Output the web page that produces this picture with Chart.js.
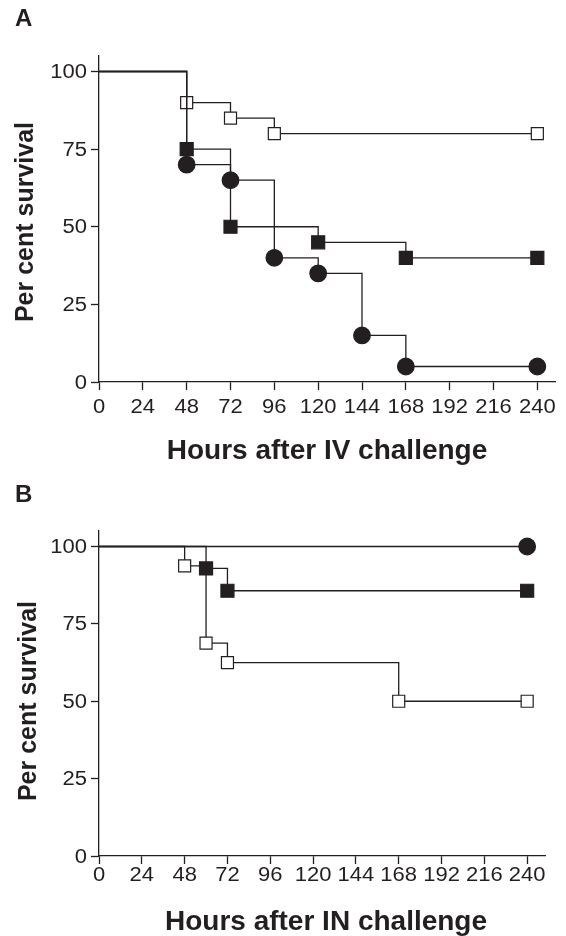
<!DOCTYPE html>
<html>
<head>
<meta charset="utf-8">
<script src="https://cdn.jsdelivr.net/npm/chart.js@4"></script>
<style>
  html, body { margin: 0; padding: 0; background: #fff; }
  body { width: 566px; height: 936px; position: relative; overflow: hidden; }
  .panel { position: absolute; left: 0; width: 566px; height: 468px; }
  #panelA { top: 0; }
  #panelB { top: 468px; }
</style>
</head>
<body>
<div class="panel" id="panelA"><canvas id="chartA" width="566" height="468"></canvas></div>
<div class="panel" id="panelB"><canvas id="chartB" width="566" height="468"></canvas></div>
<script>
// axis ticks
const hourTicks = [0, 24, 48, 72, 96, 120, 144, 168, 192, 216, 240];
const survivalTicks = [0, 25, 50, 75, 100];

// panel A - IV challenge
const ivCircleHours = [0, 48, 72, 96, 120, 144, 168, 240];
const ivCircleSurvival = [100, 70, 65, 40, 35, 15, 5, 5];
const ivFilledHours = [0, 48, 72, 120, 168, 240];
const ivFilledSurvival = [100, 75, 50, 45, 40, 40];
const ivOpenHours = [0, 48, 72, 96, 240];
const ivOpenSurvival = [100, 90, 85, 80, 80];

// panel B - IN challenge
const inCircleHours = [0, 240];
const inCircleSurvival = [100, 100];
const inFilledHours = [0, 60, 72, 240];
const inFilledSurvival = [100, 92.9, 85.7, 85.7];
const inOpenHours = [0, 48, 60, 72, 168, 240];
const inOpenSurvival = [100, 93.75, 68.75, 62.5, 50, 50];

const ink = "#231f20";
const family = "'Liberation Sans', Arial, sans-serif";

const toPoints = (xs, ys) => xs.map((x, i) => ({ x, y: ys[i] }));

const series = (xs, ys, style) => ({
  data: toPoints(xs, ys),
  showLine: true,
  stepped: true,
  borderColor: ink,
  borderWidth: 1.3,
  pointStyle: style.shape,
  pointRadius: (ctx) => (ctx.dataIndex === 0 ? 0 : style.radius),
  pointBackgroundColor: style.fill,
  pointBorderColor: ink,
  pointBorderWidth: 1.2,
  clip: false,
});

const circle = { shape: "circle", radius: 8.3, fill: ink };
const filledSquare = { shape: "rect", radius: 9.2, fill: ink };
const openSquare = { shape: "rect", radius: 8.5, fill: "#fff" };

// tick labels in the source are set in a slightly wide Helvetica
const wideText = (ctx, str, x, y, align) => {
  ctx.save();
  ctx.translate(x, y);
  ctx.scale(1.1, 1);
  ctx.textAlign = align;
  ctx.fillText(str, 0, 0);
  ctx.restore();
};

const textPlugin = {
  id: "panelText",
  afterDraw(chart) {
    const t = chart.options.plugins.panelText;
    const ctx = chart.ctx;
    const xs = chart.scales.x;
    const ys = chart.scales.y;
    ctx.save();
    ctx.fillStyle = ink;

    ctx.font = "20px " + family;
    ctx.textBaseline = "alphabetic";
    hourTicks.forEach((v) => wideText(ctx, String(v), xs.getPixelForValue(v), t.xLabelY, "center"));
    ctx.textBaseline = "middle";
    survivalTicks.forEach((v) => wideText(ctx, String(v), t.yLabelX, ys.getPixelForValue(v) + 1, "right"));

    ctx.textBaseline = "alphabetic";
    ctx.font = "bold 24px " + family;
    ctx.textAlign = "left";
    ctx.fillText(t.letter, t.letterX, t.letterY);

    ctx.font = "bold " + t.xTitleSize + "px " + family;
    ctx.textAlign = "center";
    ctx.fillText(t.xTitle, t.xTitleX, t.xTitleY);

    ctx.translate(t.yTitleX, t.yTitleY);
    ctx.rotate(-Math.PI / 2);
    ctx.font = "bold 25px " + family;
    ctx.fillText(t.yTitle, 0, 0);
    ctx.restore();
  },
};

const makeChart = (canvas, datasets, box, text) =>
  new Chart(canvas, {
    type: "scatter",
    data: { datasets },
    plugins: [textPlugin],
    options: {
      responsive: false,
      animation: false,
      events: [],
      layout: {
        padding: { left: 0, top: box.top, right: 566 - box.right, bottom: 0 },
      },
      plugins: {
        legend: { display: false },
        tooltip: { enabled: false },
        panelText: text,
      },
      scales: {
        x: {
          type: "linear",
          min: 0,
          max: 250,
          afterBuildTicks: (s) => { s.ticks = hourTicks.map((v) => ({ value: v })); },
          afterFit: (s) => { s.height = 468 - box.bottom; },
          ticks: { display: false },
          grid: { drawOnChartArea: false, drawTicks: true, tickLength: 8, tickWidth: 1.3, tickColor: ink },
          border: { display: true, color: ink, width: 1.3 },
        },
        y: {
          type: "linear",
          min: 0,
          max: 105,
          afterBuildTicks: (s) => { s.ticks = survivalTicks.map((v) => ({ value: v })); },
          afterFit: (s) => { s.width = box.left; },
          ticks: { display: false },
          grid: { drawOnChartArea: false, drawTicks: true, tickLength: 8, tickWidth: 1.3, tickColor: ink },
          border: { display: true, color: ink, width: 1.3 },
        },
      },
    },
  });

makeChart(
  document.getElementById("chartA"),
  [
    series(ivCircleHours, ivCircleSurvival, circle),
    series(ivFilledHours, ivFilledSurvival, filledSquare),
    series(ivOpenHours, ivOpenSurvival, openSquare),
  ],
  { left: 99, right: 559, top: 56, bottom: 382 },
  {
    xLabelY: 413, yLabelX: 87,
    letter: "A", letterX: 15, letterY: 26,
    xTitle: "Hours after IV challenge", xTitleSize: 28, xTitleX: 327, xTitleY: 459,
    yTitle: "Per cent survival", yTitleX: 33, yTitleY: 222,
  }
);

makeChart(
  document.getElementById("chartB"),
  [
    series(inCircleHours, inCircleSurvival, circle),
    series(inFilledHours, inFilledSurvival, filledSquare),
    series(inOpenHours, inOpenSurvival, openSquare),
  ],
  { left: 99, right: 545, top: 63, bottom: 388 },
  {
    xLabelY: 413, yLabelX: 87,
    letter: "B", letterX: 15, letterY: 34,
    xTitle: "Hours after IN challenge", xTitleSize: 28, xTitleX: 326, xTitleY: 462,
    yTitle: "Per cent survival", yTitleX: 36, yTitleY: 233,
  }
);
</script>
</body>
</html>
